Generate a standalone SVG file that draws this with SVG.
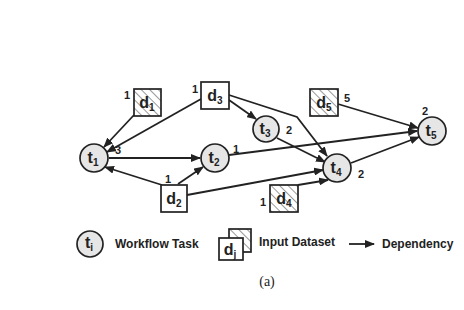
<svg xmlns="http://www.w3.org/2000/svg" width="464" height="310" viewBox="0 0 464 310">
<style>
.task{fill:#e6e6e6;stroke:#222;stroke-width:1.7}
.data{fill:#fff;stroke:#222;stroke-width:1.7}
.hatch{fill:url(#h);stroke:#222;stroke-width:1.7}
.lbl{font-family:"Liberation Sans",Arial,sans-serif;font-weight:bold;font-size:16px;fill:#222;text-anchor:middle}
.sub{font-size:10px}
.num{font-family:"Liberation Sans",Arial,sans-serif;font-weight:bold;font-size:11px;fill:#222;text-anchor:middle}
.leg{font-family:"Liberation Sans",Arial,sans-serif;font-weight:bold;font-size:12px;fill:#222}
.edge{fill:none;stroke:#222;stroke-width:1.8;marker-end:url(#arr)}
</style>
<defs>
<pattern id="h" patternUnits="userSpaceOnUse" width="6" height="6" patternTransform="rotate(-45)">
<rect width="6" height="6" fill="#fff"/>
<line x1="0" y1="0" x2="0" y2="6" stroke="#333" stroke-width="1"/>
</pattern>
<marker id="arr" markerWidth="10" markerHeight="8" refX="9" refY="4" orient="auto" markerUnits="userSpaceOnUse">
<path d="M0,0 L10,4 L0,8 Z" fill="#222"/>
</marker>
</defs>
<g id="connectors">
<line class="edge" x1="134" y1="115" x2="104" y2="147"/>
<line class="edge" x1="201" y1="99" x2="107" y2="152"/>
<line class="edge" x1="229" y1="100" x2="256" y2="119"/>
<polyline class="edge" points="229,95 297,117 327,156"/>
<line class="edge" x1="109" y1="158" x2="200" y2="158"/>
<line class="edge" x1="162" y1="185" x2="105" y2="167"/>
<line class="edge" x1="178" y1="184" x2="203" y2="167"/>
<line class="edge" x1="187" y1="195" x2="323" y2="170"/>
<line class="edge" x1="229" y1="155" x2="417" y2="131"/>
<line class="edge" x1="277" y1="138" x2="325" y2="162"/>
<line class="edge" x1="298" y1="185" x2="328" y2="180"/>
<line class="edge" x1="351" y1="163" x2="419" y2="137"/>
<line class="edge" x1="338" y1="104" x2="418" y2="128"/>
<line class="edge" x1="349" y1="244" x2="374" y2="244"/>
</g>
<g id="t1"><circle class="task" cx="94" cy="158" r="14"/><text class="lbl" x="93" y="163">t<tspan class="sub" dy="3">1</tspan></text></g>
<g id="t2"><circle class="task" cx="215" cy="158" r="14"/><text class="lbl" x="214" y="163">t<tspan class="sub" dy="3">2</tspan></text></g>
<g id="t3"><circle class="task" cx="266" cy="129" r="13"/><text class="lbl" x="265" y="134">t<tspan class="sub" dy="3">3</tspan></text></g>
<g id="t4"><circle class="task" cx="337" cy="168" r="14"/><text class="lbl" x="336" y="173">t<tspan class="sub" dy="3">4</tspan></text></g>
<g id="t5"><circle class="task" cx="432" cy="131" r="14"/><text class="lbl" x="431" y="136">t<tspan class="sub" dy="3">5</tspan></text></g>
<g id="d1"><rect class="hatch" x="134" y="89" width="27" height="27"/><text class="lbl" x="147" y="108">d<tspan class="sub" dy="3">1</tspan></text></g>
<g id="d2"><rect class="data" x="161" y="185" width="26" height="27"/><text class="lbl" x="174" y="204">d<tspan class="sub" dy="3">2</tspan></text></g>
<g id="d3"><rect class="data" x="201" y="82" width="28" height="27"/><text class="lbl" x="215" y="101">d<tspan class="sub" dy="3">3</tspan></text></g>
<g id="d4"><rect class="hatch" x="270" y="185" width="28" height="27"/><text class="lbl" x="284" y="204">d<tspan class="sub" dy="3">4</tspan></text></g>
<g id="d5"><rect class="hatch" x="310" y="89" width="28" height="27"/><text class="lbl" x="324" y="108">d<tspan class="sub" dy="3">5</tspan></text></g>
<g id="labels">
<text class="num" x="127" y="99">1</text>
<text class="num" x="195" y="93">1</text>
<text class="num" x="118" y="154">3</text>
<text class="num" x="236" y="153">1</text>
<text class="num" x="168" y="183">1</text>
<text class="num" x="289" y="134">2</text>
<text class="num" x="347" y="102">5</text>
<text class="num" x="425" y="115">2</text>
<text class="num" x="361" y="178">2</text>
<text class="num" x="263" y="206">1</text>
</g>
<g id="legend">
<circle class="task" cx="90" cy="244" r="13"/><text class="lbl" x="89" y="248">t<tspan class="sub" dy="3">i</tspan></text>
<text class="leg" x="115" y="248">Workflow Task</text>
<rect class="hatch" x="229" y="229" width="22" height="23"/>
<rect class="data" x="219" y="238" width="24" height="22"/><text class="lbl" x="230" y="255">d<tspan class="sub" dy="3">j</tspan></text>
<text class="leg" x="259" y="246">Input Dataset</text>
<text class="leg" x="382" y="248">Dependency</text>
<text x="267" y="286" font-family="Liberation Serif,serif" font-size="14" fill="#222" text-anchor="middle">(a)</text>
</g>
</svg>
